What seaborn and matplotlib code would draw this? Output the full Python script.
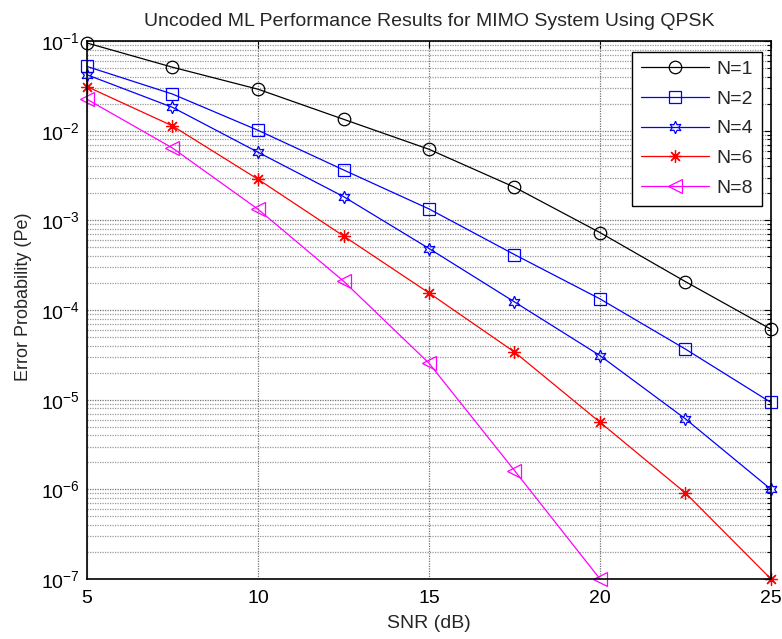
import numpy as np
import pandas as pd
import matplotlib
matplotlib.use("Agg")
import matplotlib.pyplot as plt
import seaborn as sns
from matplotlib.ticker import LogLocator, FixedLocator

sns.set_style("white")
plt.rcParams['font.family'] = ['Liberation Sans', 'DejaVu Sans']
plt.rcParams['mathtext.fontset'] = 'custom'
plt.rcParams['mathtext.rm'] = 'Liberation Sans'

snr = [5, 7.5, 10, 12.5, 15, 17.5, 20, 22.5, 25]
pe_n1 = [0.095, 0.051, 0.029, 0.0134, 0.0062, 0.00234, 7.3e-4, 2.07e-4, 6.1e-5]
pe_n2 = [0.052, 0.0256, 0.0101, 0.00365, 0.00134, 4.15e-4, 1.33e-4, 3.66e-5, 9.3e-6]
pe_n4 = [0.042, 0.0182, 0.00575, 0.00184, 4.85e-4, 1.23e-4, 3.1e-5, 6.1e-6, 1.0e-6]
pe_n6 = [0.031, 0.0113, 0.00287, 6.7e-4, 1.55e-4, 3.4e-5, 5.6e-6, 9.1e-7, 1.0e-7]
snr_n8 = [5, 7.5, 10, 12.5, 15, 17.5, 20]
pe_n8 = [0.0224, 0.0064, 0.00133, 2.1e-4, 2.55e-5, 1.62e-6, 1.0e-7]

series = [
    ("N=1", snr, pe_n1, "black", "o", 9),
    ("N=2", snr, pe_n2, "#0000ff", "s", 9),
    ("N=4", snr, pe_n4, "#0000ff", (6, 1, 0), 9),
    ("N=6", snr, pe_n6, "#ff0000", (8, 2, 0), 9),
    ("N=8", snr_n8, pe_n8, "#ff00ff", "<", 10),
]

fig = plt.figure(figsize=(7.82, 6.39), dpi=100)
ax = fig.add_axes([87/782, 60/639, 684/782, 538/639])

for label, xs, ys, col, mk, ms in series:
    df = pd.DataFrame({"SNR": xs, "Pe": ys})
    sns.lineplot(data=df, x="SNR", y="Pe", ax=ax, color=col, marker=mk,
                 markersize=ms, markerfacecolor="none", markeredgecolor=col,
                 markeredgewidth=0.9, linewidth=0.9, label=label, clip_on=False,
                 zorder=3)

ax.set_yscale("log")
ax.set_xlim(5, 25)
ax.set_ylim(1e-7, 1e-1)
ax.xaxis.set_major_locator(FixedLocator([5, 10, 15, 20, 25]))
ax.yaxis.set_major_locator(LogLocator(base=10, numticks=20))
ax.yaxis.set_minor_locator(LogLocator(base=10, subs=np.arange(2, 10), numticks=20))

ax.grid(True, which="major", color="0.45", linestyle=(0, (1, 1)), linewidth=0.9)
ax.grid(True, which="minor", axis="y", color="0.6", linestyle=(0, (1, 1)), linewidth=0.9)
ax.tick_params(which="both", direction="in", top=True, right=True, colors="black",
               labelsize=14)
ax.tick_params(which="major", length=5, width=0.8)
ax.tick_params(which="minor", length=3, width=0.8)
ax.tick_params(axis="x", which="major", pad=8)
ax.tick_params(axis="y", which="major", pad=5)
for sp in ax.spines.values():
    sp.set_color("black")
    sp.set_linewidth(1.2)
    sp.set_zorder(4)

ax.set_title("Uncoded ML Performance Results for MIMO System Using QPSK", fontsize=14, pad=11)
ax.set_xlabel("SNR (dB)", fontsize=14)
ax.set_ylabel("Error Probability (Pe)", fontsize=13)
ax.xaxis.set_label_coords(0.5, -0.066)
ax.yaxis.set_label_coords(-0.080, 0.524)

leg = ax.legend(loc="upper right", bbox_to_anchor=(0.987, 0.98), fontsize=14,
                frameon=True, fancybox=False, framealpha=1, edgecolor="black",
                handlelength=3.5, handletextpad=0.4, labelspacing=0.62,
                borderpad=0.45, borderaxespad=0)
leg.get_frame().set_linewidth(1.0)
leg.set_zorder(5)

fig.savefig("out.png", dpi=100)
